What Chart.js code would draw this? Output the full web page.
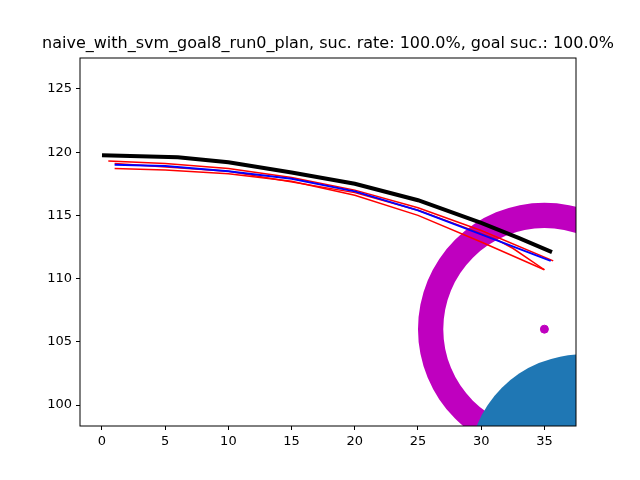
<!DOCTYPE html>
<html><head><meta charset="utf-8">
<script src="https://cdn.jsdelivr.net/npm/chart.js@4"></script>
<style>body{margin:0;background:#fff}#c{display:block}</style>
</head><body>
<canvas id="c" width="640" height="480"></canvas>
<script>
// data
const titleText="naive_with_svm_goal8_run0_plan, suc. rate: 100.0%, goal suc.: 100.0%";
const xTicks=[0,5,10,15,20,25,30,35];
const yTicks=[100,105,110,115,120,125];
const blackPath=[[0,119.75],[6,119.6],[10,119.2],[15,118.4],[20,117.5],[25,116.2],[30,114.4],[33,113.2],[35.6,112.1]];
const bluePath=[[1,119.0],[5,118.9],[10,118.5],[15,117.9],[20,116.9],[25,115.4],[30,113.5],[35.5,111.4]];
const redPaths=[
[[0.5,119.3],[5,119.1],[10,118.7],[15,118.0],[20,117.0],[25,115.6],[30,113.8],[35.7,111.4]],
[[1,118.7],[5,118.6],[10,118.3],[15,117.7],[20,116.6],[25,115.0],[30,112.9],[35,110.7]],
[[1,119.1],[10,118.5],[20,116.8],[25,115.4],[31,113.2],[32.5,112.4],[35,110.7]]
];
const goal=[35,106];
const ringCenter=[35,106], ringInner=8, ringOuter=10;
const obstacleCenter=[38,95], obstacleRadius=9;

const pts=a=>a.map(p=>({x:p[0],y:p[1]}));
const datasets=[];
redPaths.forEach(r=>datasets.push({data:pts(r),borderColor:'#ff0000',borderWidth:1.5,pointRadius:0,showLine:true,order:3}));
datasets.push({data:pts(bluePath),borderColor:'#0000ff',borderWidth:2,pointRadius:0,showLine:true,order:2});
datasets.push({data:pts(blackPath),borderColor:'#000',borderWidth:4,pointRadius:0,showLine:true,order:1});
datasets.push({data:[{x:goal[0],y:goal[1]}],backgroundColor:'#bf00bf',borderColor:'#bf00bf',pointRadius:4,showLine:false,order:0});

const shapes={id:'shapes',
beforeDatasetsDraw(ch){
 const {ctx,chartArea:a,scales:{x,y}}=ch;
 const px=x.getPixelForValue(1)-x.getPixelForValue(0);
 const py=y.getPixelForValue(0)-y.getPixelForValue(1);
 ctx.save();ctx.beginPath();ctx.rect(a.left,a.top,a.right-a.left,a.bottom-a.top);ctx.clip();
 let cx=x.getPixelForValue(ringCenter[0]),cy=y.getPixelForValue(ringCenter[1]);
 ctx.beginPath();ctx.ellipse(cx,cy,ringOuter*px,ringOuter*py,0,0,2*Math.PI);
 ctx.ellipse(cx,cy,ringInner*px,ringInner*py,0,0,2*Math.PI,true);
 ctx.fillStyle='#bf00bf';ctx.fill('evenodd');
 cx=x.getPixelForValue(obstacleCenter[0]);cy=y.getPixelForValue(obstacleCenter[1]);
 ctx.beginPath();ctx.ellipse(cx,cy,obstacleRadius*px,obstacleRadius*py,0,0,2*Math.PI);
 ctx.fillStyle='#1f77b4';ctx.fill();
 ctx.restore();
},
afterDraw(ch){
 const {ctx,chartArea:a}=ch;
 ctx.save();ctx.strokeStyle='#000';ctx.lineWidth=1;
 ctx.strokeRect(a.left,a.top,a.right-a.left,a.bottom-a.top);
 ctx.fillStyle='#000';ctx.font='16px "DejaVu Sans"';ctx.textAlign='center';ctx.textBaseline='bottom';
 ctx.fillText(titleText,(a.left+a.right)/2,a.top-6);
 ctx.restore();
}};

const tickOpts={color:'#000',font:{family:'DejaVu Sans',size:13},padding:4};
new Chart(document.getElementById('c'),{
type:'scatter',
data:{datasets},
options:{responsive:false,animation:false,
 layout:{padding:{top:58,right:64,left:0,bottom:0}},
 plugins:{legend:{display:false},tooltip:{enabled:false}},
 scales:{
  x:{type:'linear',min:-1.74,max:37.5,
   afterBuildTicks:s=>{s.ticks=xTicks.map(v=>({value:v}))},
   afterFit:s=>{s.height=54},
   grid:{drawOnChartArea:false,drawTicks:true,tickLength:4,color:'#000'},border:{display:false},
   ticks:tickOpts},
  y:{type:'linear',min:98.34,max:127.45,
   afterBuildTicks:s=>{s.ticks=yTicks.map(v=>({value:v}))},
   afterFit:s=>{s.width=80},
   grid:{drawOnChartArea:false,drawTicks:true,tickLength:4,color:'#000'},border:{display:false},
   ticks:tickOpts}
 }},
plugins:[shapes]
});
</script>
</body></html>
